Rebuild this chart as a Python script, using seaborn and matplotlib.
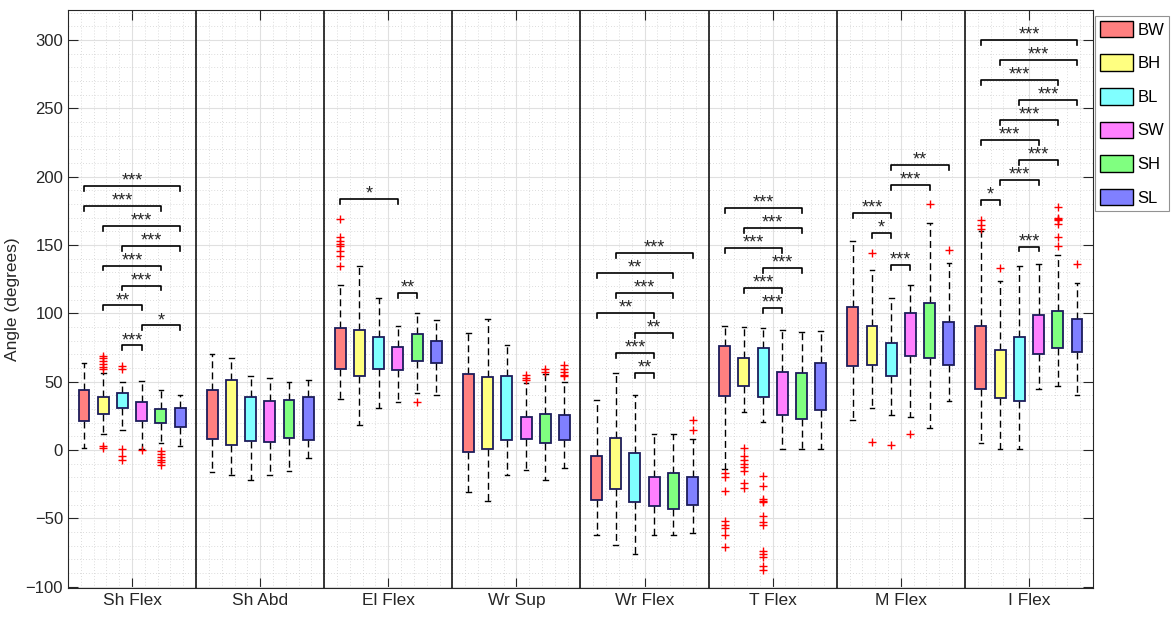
import numpy as np
import pandas as pd
import matplotlib
matplotlib.use("Agg")
import matplotlib.pyplot as plt
import seaborn as sns
from matplotlib.patches import Patch
from matplotlib.ticker import MultipleLocator

groups = ['Sh Flex', 'Sh Abd', 'El Flex', 'Wr Sup', 'Wr Flex', 'T Flex', 'M Flex', 'I Flex']
conditions = ['BW', 'BH', 'BL', 'SW', 'SH', 'SL']

# five-number summaries per group; each row lists BW, BH, BL, SW, SH, SL
whisker_low = [
    [1.5, 12, 14.5, 0.5, 5.5, 3],
    [-16, -18, -22, -18, -15.5, -5.5],
    [37.5, 18, 30.5, 35.5, 41.5, 40],
    [-31, -37, -18.5, -14.5, -22, -13],
    [-62, -69.5, -76, -62.5, -62.5, -61],
    [-14, 28, 20.5, 0.5, 0.5, 0.5],
    [22, 31, 26, 24.5, 16, 36],
    [5, 1, 1, 45, 46.5, 40.5],
]
quartile1 = [
    [21.5, 26.5, 30.5, 21.5, 19.5, 17],
    [8, 3.5, 6.5, 6, 9, 7],
    [59, 54.5, 59, 58.5, 65.5, 64],
    [-1.5, 0.5, 7.5, 8, 5.5, 7.5],
    [-36.5, -28.5, -38, -41, -43, -40.5],
    [39.5, 47, 39, 26, 23, 29.5],
    [61.5, 62.5, 54.5, 69, 67, 62],
    [45, 38, 36, 70, 74.5, 72],
]
medians = [
    [31, 33, 37, 28, 24.5, 23.5],
    [28, 25, 19.5, 18.5, 23, 27],
    [71.5, 73, 68.5, 65.5, 76, 68.5],
    [16, 29, 23, 15, 14, 15.5],
    [-20.5, -9, -23, -33, -35, -32],
    [60, 56, 55, 39.5, 41.5, 48],
    [79, 77, 70, 86.5, 86.5, 77.5],
    [66, 54.5, 56.5, 86.5, 87.5, 87.5],
]
quartile3 = [
    [44, 39, 41.5, 35.5, 30, 30.5],
    [44, 51, 39, 36, 36.5, 38.5],
    [89, 88, 82.5, 75.5, 85, 80],
    [56, 53.5, 54, 24.5, 26.5, 26],
    [-4.5, 9, -2, -20, -17, -20],
    [76, 67.5, 74.5, 57, 56.5, 63.5],
    [104.5, 91, 78, 100, 107.5, 94],
    [91, 73, 82.5, 98.5, 102, 96],
]
whisker_high = [
    [63.5, 56.5, 50, 50.5, 44, 40],
    [70.5, 67, 54.5, 52.5, 50, 51.5],
    [121, 134.5, 111, 91, 100, 95],
    [86, 96, 77, 49, 56, 50],
    [36.5, 56.5, 40, 11.5, 11.5, 8],
    [90.5, 90, 89, 87.5, 86.5, 87],
    [153, 132, 111.5, 121, 166, 137],
    [160, 124, 134.5, 136, 143, 122],
]

# outliers: (group, condition, values)
outlier_group = ['Sh Flex', 'Sh Flex', 'Sh Flex', 'Sh Flex',
                 'El Flex', 'El Flex',
                 'Wr Sup', 'Wr Sup', 'Wr Sup',
                 'Wr Flex',
                 'T Flex', 'T Flex', 'T Flex',
                 'M Flex', 'M Flex', 'M Flex', 'M Flex', 'M Flex',
                 'I Flex', 'I Flex', 'I Flex', 'I Flex']
outlier_cond = ['BH', 'BL', 'SW', 'SH',
                'BW', 'SH',
                'SW', 'SH', 'SL',
                'SL',
                'BW', 'BH', 'BL',
                'BH', 'BL', 'SW', 'SH', 'SL',
                'BW', 'BH', 'SH', 'SL']
outlier_values = [
    [69, 67, 65, 63, 61, 59, 3, 1.5],
    [61.5, 59, 1, -4, -7],
    [0],
    [-1, -3, -5, -7, -9, -11],
    [169, 156, 153, 151, 149, 146, 142, 135],
    [35],
    [55, 53, 51],
    [59, 57],
    [62, 59, 57, 55, 54],
    [22, 15],
    [-17, -20, -30, -52, -55, -57, -62, -71],
    [1.5, -4.5, -7, -10, -12.5, -15.5, -24, -28],
    [-19, -26, -36, -37, -38, -48, -53, -55, -74, -76, -78, -85, -87.5],
    [144.5, 6],
    [3.5],
    [11.5],
    [180],
    [146.5],
    [168, 165, 162],
    [133],
    [178, 170, 169, 168, 165.5, 156, 149.5],
    [136.5],
]

# significance brackets
sig_group = (['Sh Flex'] * 9 + ['El Flex'] * 2 + ['Wr Flex'] * 7 + ['T Flex'] * 6
             + ['M Flex'] * 5 + ['I Flex'] * 10)
sig_a = ['BW', 'BW', 'BH', 'BL', 'BH', 'BL', 'BH', 'SW', 'BL',
         'BW', 'SW',
         'BH', 'BW', 'BH', 'BW', 'BL', 'BH', 'BL',
         'BW', 'BH', 'BW', 'BL', 'BH', 'BL',
         'BL', 'BL', 'BW', 'BH', 'BL',
         'BW', 'BH', 'BW', 'BL', 'BH', 'BW', 'BL', 'BH', 'BW', 'BL']
sig_b = ['SL', 'SH', 'SL', 'SL', 'SH', 'SH', 'SW', 'SL', 'SW',
         'SW', 'SH',
         'SL', 'SH', 'SH', 'SW', 'SH', 'SW', 'SW',
         'SH', 'SH', 'SW', 'SH', 'SW', 'SW',
         'SL', 'SH', 'BL', 'BL', 'SW',
         'SL', 'SL', 'SH', 'SL', 'SH', 'SW', 'SH', 'SW', 'BH', 'SW']
sig_y = [193.5, 178.8, 164.2, 149.6, 135, 120.4, 105.8, 91.2, 76.5,
         183.7, 114.8,
         144, 129.4, 114.8, 100.1, 85.5, 70.9, 56.3,
         176.9, 162.3, 147.7, 133, 118.4, 103.8,
         208.6, 194, 173.3, 158.6, 135.5,
         300, 285.4, 270.7, 256.1, 241.5, 226.9, 212.2, 197.6, 183, 148.9]
sig_label = ['***', '***', '***', '***', '***', '***', '**', '*', '***',
             '*', '**',
             '***', '**', '***', '**', '**', '***', '**',
             '***', '***', '***', '***', '***', '***',
             '**', '***', '***', '*', '***',
             '***', '***', '***', '***', '***', '***', '***', '***', '*', '***']

face_colors = ['#ff8080', '#ffff80', '#80ffff', '#ff80ff', '#80ff80', '#8080ff']
median_colors = ['#ff0000', '#ff8000', '#808080', '#ff0080', '#808000', '#800080']
edge_color = '#1c1c5a'

# ---- build long table ----
rows = []
for gi, g in enumerate(groups):
    for ci, c in enumerate(conditions):
        for v in (whisker_low[gi][ci], quartile1[gi][ci], medians[gi][ci],
                  quartile3[gi][ci], whisker_high[gi][ci]):
            rows.append((g, c, v))
df = pd.DataFrame(rows, columns=['joint', 'cond', 'angle'])

plt.rcParams['font.family'] = ['Liberation Sans', 'DejaVu Sans']
fig = plt.figure(figsize=(11.72, 6.19), dpi=100)
ax = fig.add_axes([0.058, 0.05, 0.8746, 0.9338])

STEP = 0.15
TOTAL = STEP * len(conditions)
sns.boxplot(data=df, x='joint', y='angle', hue='cond', order=groups,
            hue_order=conditions, palette=face_colors, saturation=1,
            whis=(0, 100), width=TOTAL, gap=0.43, fliersize=0,
            linecolor=edge_color, linewidth=1.3, legend=False, ax=ax)

def hue_index(xc):
    off = xc - np.round(xc)
    return int(np.clip(np.round(off / STEP + 2.5), 0, 5))

for cont in ax.containers:
    for ln in getattr(cont, 'medians', []):
        xd = np.asarray(ln.get_xdata(), float)
        ln.set_color(median_colors[hue_index(xd.mean())])
        ln.set_linewidth(1.1)
    for ln in getattr(cont, 'whiskers', []):
        ln.set_color('black')
        ln.set_linestyle((0, (5, 3)))
        ln.set_linewidth(1.0)
    for ln in getattr(cont, 'caps', []):
        xd = np.asarray(ln.get_xdata(), float)
        xc = xd.mean()
        ln.set_xdata([xc - 0.018, xc + 0.018])
        ln.set_color('black')
        ln.set_linewidth(1.0)
    for b in getattr(cont, 'boxes', []):
        b.set_edgecolor(edge_color)
        b.set_zorder(3)

# outliers
ox, oy = [], []
for g, c, vals in zip(outlier_group, outlier_cond, outlier_values):
    xpos = groups.index(g) + (conditions.index(c) - 2.5) * STEP
    ox += [xpos] * len(vals)
    oy += list(vals)
sns.scatterplot(x=ox, y=oy, marker='+', color='red', s=40, linewidth=1.0,
                ax=ax, zorder=4, legend=False)

# significance brackets
tick_h = 3.6
for g, a, b, y, lab in zip(sig_group, sig_a, sig_b, sig_y, sig_label):
    gi = groups.index(g)
    x1 = gi + (conditions.index(a) - 2.5) * STEP
    x2 = gi + (conditions.index(b) - 2.5) * STEP
    ax.plot([x1, x1, x2, x2], [y - tick_h, y, y, y - tick_h], color='black', lw=1.2, zorder=5)
    ax.text((x1 + x2) / 2, y + 3.6, lab, ha='center', va='center', fontsize=13,
            color='#262626', zorder=5)

# group separators
for k in range(len(groups) - 1):
    ax.axvline(k + 0.5, color='black', lw=1.1, zorder=2)

ax.set_xlim(-0.5, len(groups) - 0.5)
ax.set_ylim(-101, 322)
ax.set_yticks(np.arange(-100, 301, 50))
ax.yaxis.set_minor_locator(MultipleLocator(10))
ax.xaxis.set_minor_locator(MultipleLocator(0.1))
ax.set_axisbelow(True)
ax.grid(which='major', color='#e0e0e0', lw=0.8)
ax.grid(which='minor', color='#d0d0d0', lw=0.6, ls=(0, (1, 2.5)))
ax.tick_params(which='major', direction='in', length=7, top=True, right=True,
               colors='#262626', width=0.8)
ax.tick_params(axis='y', labelsize=12)
ax.tick_params(axis='x', labelsize=12.5)
ax.tick_params(which='minor', length=0)
ax.set_xlabel('')
ax.set_ylabel('Angle (degrees)', fontsize=12.5, color='#262626', labelpad=4)
for s in ax.spines.values():
    s.set_color('#262626')
    s.set_linewidth(0.8)

handles = [Patch(facecolor=fc, edgecolor='black', linewidth=1.0) for fc in face_colors]
leg = ax.legend(handles, conditions, loc='upper left', bbox_to_anchor=(1.002, 0.99),
                fontsize=12, frameon=True, fancybox=False, edgecolor='#777777',
                handlelength=2.0, handleheight=1.15, labelspacing=1.0,
                handletextpad=0.25, borderpad=0.3, borderaxespad=0.0)
leg.get_frame().set_linewidth(0.8)

fig.savefig('out.png', dpi=100)
